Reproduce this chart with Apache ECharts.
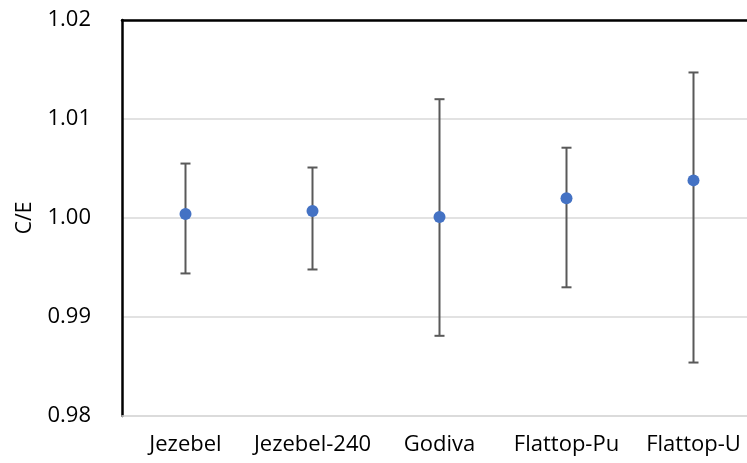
<!DOCTYPE html>
<html>
<head>
<meta charset="utf-8">
<script src="https://cdn.jsdelivr.net/npm/echarts@6/dist/echarts.min.js"></script>
<style>
html,body{margin:0;padding:0;background:#fff;}
#chart{width:747px;height:463px;}
</style>
</head>
<body>
<div id="chart"></div>
<script>
const categories = ['Jezebel', 'Jezebel-240', 'Godiva', 'Flattop-Pu', 'Flattop-U'];
const ceValues = [1.0004, 1.0007, 1.0001, 1.0020, 1.0038];
const errLow = [0.9944, 0.9948, 0.9881, 0.9930, 0.9854];
const errHigh = [1.0055, 1.0051, 1.0120, 1.0071, 1.0147];
const yTicks = [0.98, 0.99, 1.00, 1.01, 1.02];

const font = '"Open Sans", Lato, sans-serif';
const chart = echarts.init(document.getElementById('chart'), null, {renderer: 'canvas'});

const errData = categories.map((c, i) => [i, errLow[i], errHigh[i]]);

chart.setOption({
  animation: false,
  backgroundColor: '#fff',
  grid: {left: 122, top: 20, width: 635, height: 396, containLabel: false, outerBoundsMode: 'none'},
  xAxis: [{
    type: 'category',
    data: categories,
    boundaryGap: true,
    axisLine: {show: true, lineStyle: {color: '#d9d9d9', width: 1.5}},
    axisTick: {show: false},
    axisLabel: {color: '#000', fontSize: 22, fontFamily: font, margin: 18, interval: 0, hideOverlap: false}
  }, {
    type: 'category',
    data: categories,
    position: 'top',
    axisLine: {show: true, lineStyle: {color: '#000', width: 2.5}},
    axisTick: {show: false},
    axisLabel: {show: false}
  }],
  yAxis: {
    type: 'value',
    min: 0.98,
    max: 1.02,
    interval: 0.01,
    name: 'C/E',
    nameLocation: 'middle',
    nameRotate: 90,
    nameGap: 86,
    nameTextStyle: {color: '#000', fontSize: 21, fontFamily: font},
    axisLine: {show: true, lineStyle: {color: '#000', width: 2.5}},
    axisTick: {show: false},
    axisLabel: {
      color: '#000', fontSize: 22, fontFamily: font, margin: 31,
      formatter: v => {
        const t = yTicks.find(x => Math.abs(x - v) < 1e-6);
        return (t !== undefined ? t : v).toFixed(2);
      }
    },
    splitLine: {show: true, lineStyle: {color: '#d9d9d9', width: 1.5}}
  },
  series: [{
    type: 'custom',
    data: errData,
    z: 2,
    renderItem: function (params, api) {
      const x = api.value(0);
      const lo = api.coord([x, api.value(1)]);
      const hi = api.coord([x, api.value(2)]);
      const hw = 5;
      const style = {stroke: '#595959', lineWidth: 2};
      return {
        type: 'group',
        children: [
          {type: 'line', shape: {x1: hi[0], y1: hi[1], x2: lo[0], y2: lo[1]}, style: style},
          {type: 'line', shape: {x1: hi[0] - hw, y1: hi[1], x2: hi[0] + hw, y2: hi[1]}, style: style},
          {type: 'line', shape: {x1: lo[0] - hw, y1: lo[1], x2: lo[0] + hw, y2: lo[1]}, style: style}
        ]
      };
    }
  }, {
    type: 'scatter',
    data: ceValues,
    symbol: 'circle',
    symbolSize: 12,
    z: 3,
    itemStyle: {color: '#4472C4', opacity: 1}
  }]
});
</script>
</body>
</html>
